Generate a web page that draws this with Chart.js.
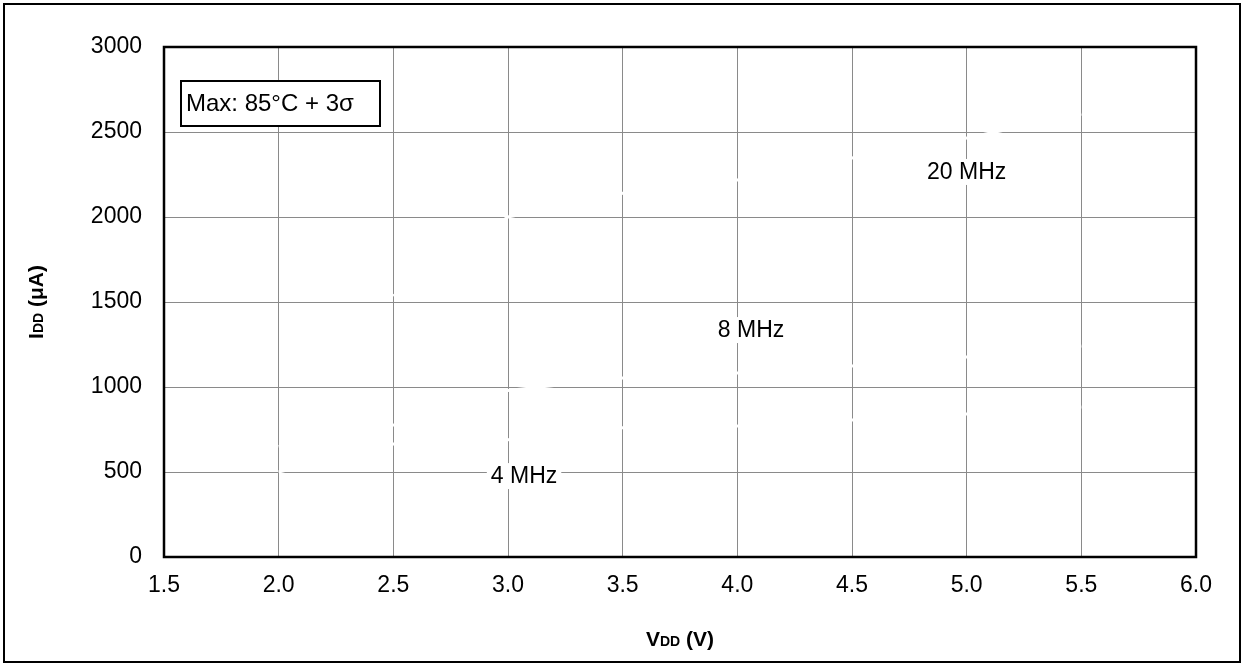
<!DOCTYPE html>
<html>
<head>
<meta charset="utf-8">
<script src="https://cdn.jsdelivr.net/npm/chart.js@4.4.1/dist/chart.umd.min.js"></script>
<style>
  html, body { margin: 0; padding: 0; background: #fff; }
  #wrap { width: 1244px; height: 666px; }
</style>
</head>
<body>
<div id="wrap"><canvas id="IddChart" width="1244" height="666"></canvas></div>
<script>
// supply voltage (V) sample points
const vdd = [2.0, 2.5, 3.0, 3.5, 4.0, 4.5, 5.0, 5.5];
// max IDD (uA) per clock frequency
const idd4MHz = [500, 665, 690, 760, 770, 806, 841, 882];
const idd8MHz = [650, 776, 980, 1053, 1082, 1124, 1176, 1241];
const idd20MHz = [null, 1535, 2000, 2140, 2218, 2347, 2465, 2606];
const seriesNames = ['4 MHz', '8 MHz', '20 MHz'];
// where each curve label sits, in data units
const labelVdd = [3.07, 4.06, 5.0];
const labelIdd = [476, 1335, 2265];
const xTicks = [1.5, 2.0, 2.5, 3.0, 3.5, 4.0, 4.5, 5.0, 5.5, 6.0];
const yTicks = [0, 500, 1000, 1500, 2000, 2500, 3000];
const noteText = 'Max: 85°C + 3σ';

const FONT = "'Liberation Sans', Arial, Helvetica, sans-serif";

const toPoints = (ys) => vdd.map((v, i) => ({ x: v, y: ys[i] }));

const makeSet = (name, ys) => ({
  label: name,
  data: toPoints(ys),
  borderColor: '#ffffff',
  borderWidth: 3,
  pointRadius: 0,
  fill: false,
  tension: 0,
  spanGaps: false
});

// draw a title with a small "DD" part
const drawRichTitle = (ctx, parts) => {
  let total = 0;
  parts.forEach(p => { ctx.font = p.font; total += ctx.measureText(p.text).width; });
  let x = -total / 2;
  parts.forEach(p => {
    ctx.font = p.font;
    ctx.fillText(p.text, x, 0);
    x += ctx.measureText(p.text).width;
  });
};

const decorPlugin = {
  id: 'decor',
  beforeDraw(chart) {
    const { ctx, width, height } = chart;
    ctx.save();
    ctx.fillStyle = '#ffffff';
    ctx.fillRect(0, 0, width, height);
    ctx.restore();
  },
  afterDatasetsDraw(chart) {
    const { ctx, scales } = chart;
    ctx.save();
    ctx.font = `23px ${FONT}`;
    ctx.textAlign = 'center';
    ctx.textBaseline = 'middle';
    seriesNames.forEach((name, i) => {
      const px = scales.x.getPixelForValue(labelVdd[i]);
      const py = scales.y.getPixelForValue(labelIdd[i]);
      const w = ctx.measureText(name).width;
      ctx.fillStyle = '#ffffff';
      ctx.fillRect(px - w / 2 - 4, py - 13, w + 8, 26);
      ctx.fillStyle = '#000000';
      ctx.fillText(name, px, py + 1);
    });
    ctx.restore();
  },
  afterDraw(chart) {
    const { ctx, chartArea } = chart;
    const { left, top, right, bottom } = chartArea;
    ctx.save();
    // plot frame
    ctx.strokeStyle = '#000000';
    ctx.lineWidth = 2.5;
    ctx.strokeRect(left, top, right - left, bottom - top);

    // note box
    const bx = left + 17, by = top + 34, bw = 199, bh = 45;
    ctx.fillStyle = '#ffffff';
    ctx.fillRect(bx, by, bw, bh);
    ctx.lineWidth = 2;
    ctx.strokeRect(bx, by, bw, bh);
    ctx.fillStyle = '#000000';
    ctx.font = `24px ${FONT}`;
    ctx.textAlign = 'left';
    ctx.textBaseline = 'middle';
    ctx.fillText(noteText, bx + 5, by + bh / 2 + 1);

    // axis titles
    const big = `bold 21px ${FONT}`;
    const small = `bold 14px ${FONT}`;
    ctx.textAlign = 'left';
    ctx.textBaseline = 'alphabetic';
    ctx.save();
    ctx.translate((left + right) / 2, 646);
    drawRichTitle(ctx, [
      { text: 'V', font: big },
      { text: 'DD', font: small },
      { text: ' (V)', font: big }
    ]);
    ctx.restore();

    ctx.save();
    ctx.translate(43, (top + bottom) / 2);
    ctx.rotate(-Math.PI / 2);
    drawRichTitle(ctx, [
      { text: 'I', font: big },
      { text: 'DD', font: small },
      { text: ' (μA)', font: big }
    ]);
    ctx.restore();

    // outer frame
    ctx.lineWidth = 2;
    ctx.strokeRect(4, 4, chart.width - 8, chart.height - 8);
    ctx.restore();
  }
};

const ctx = document.getElementById('IddChart');
new Chart(ctx, {
  type: 'line',
  data: {
    datasets: [
      makeSet(seriesNames[0], idd4MHz),
      makeSet(seriesNames[1], idd8MHz),
      makeSet(seriesNames[2], idd20MHz)
    ]
  },
  options: {
    responsive: false,
    animation: false,
    devicePixelRatio: 1,
    layout: {
      padding: { left: 0, right: 48, top: 47, bottom: 0 }
    },
    plugins: {
      legend: { display: false },
      tooltip: { enabled: false }
    },
    scales: {
      x: {
        type: 'linear',
        min: xTicks[0],
        max: xTicks[xTicks.length - 1],
        afterFit: (scale) => { scale.height = 109; },
        afterBuildTicks: (scale) => { scale.ticks = xTicks.map(v => ({ value: v })); },
        ticks: {
          callback: (v) => Number(v).toFixed(1),
          color: '#000000',
          font: { family: FONT, size: 23 },
          padding: 15,
          maxRotation: 0
        },
        grid: { color: '#8a8a8a', lineWidth: 1, drawTicks: false },
        border: { display: false }
      },
      y: {
        min: yTicks[0],
        max: yTicks[yTicks.length - 1],
        afterFit: (scale) => { scale.width = 164; },
        afterBuildTicks: (scale) => { scale.ticks = yTicks.map(v => ({ value: v })); },
        ticks: {
          callback: (v) => String(v),
          color: '#000000',
          font: { family: FONT, size: 23 },
          padding: 22
        },
        grid: { color: '#8a8a8a', lineWidth: 1, drawTicks: false },
        border: { display: false }
      }
    }
  },
  plugins: [decorPlugin]
});
</script>
</body>
</html>
